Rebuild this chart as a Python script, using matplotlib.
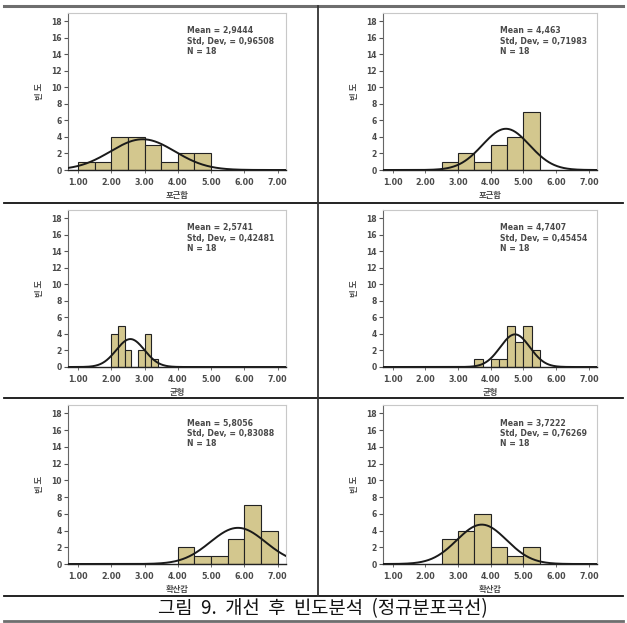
import numpy as np
import matplotlib
matplotlib.use("Agg")
import matplotlib.pyplot as plt

plt.rcParams['font.family'] = ['DejaVu Sans', 'Noto Sans CJK KR']

# ---- data ----
x_labels = ["포근함", "포근함", "균형", "균형", "확산감", "확산감"]
means = [2.9444, 4.463, 2.5741, 4.7407, 5.8056, 3.7222]
sds = [0.96508, 0.71983, 0.42481, 0.45454, 0.83088, 0.76269]
n_obs = [18, 18, 18, 18, 18, 18]
mean_text = ["2,9444", "4,463", "2,5741", "4,7407", "5,8056", "3,7222"]
sd_text = ["0,96508", "0,71983", "0,42481", "0,45454", "0,83088", "0,76269"]
bin_start = [1.0, 2.5, 2.0, 3.5, 4.0, 2.5]
bin_width = [0.5, 0.5, 0.2, 0.25, 0.5, 0.5]
counts = [
    [1, 1, 4, 4, 3, 1, 2, 2],
    [1, 2, 1, 3, 4, 7],
    [4, 5, 2, 0, 2, 4, 1],
    [1, 0, 1, 1, 5, 3, 5, 2],
    [2, 1, 1, 3, 7, 4],
    [3, 4, 6, 2, 1, 2],
]
x_ticks = [1, 2, 3, 4, 5, 6, 7]
y_ticks = [0, 2, 4, 6, 8, 10, 12, 14, 16, 18]

W, H = 627, 623
fig = plt.figure(figsize=(W / 100, H / 100), dpi=100)

def px_axes(left, top, right, bottom):
    return fig.add_axes([left / W, 1 - bottom / H, (right - left) / W, (bottom - top) / H])

col_lr = [(68, 286), (383, 597)]
row_tb = [(13, 170), (210, 367), (405, 564)]

bar_color = "#d3c78e"
txt_color = "#4a4a4a"

for i in range(6):
    r, c = divmod(i, 2)
    l, rr = col_lr[c]
    t, b = row_tb[r]
    ax = px_axes(l, t, rr, b)
    cnt = counts[i]
    lefts = [bin_start[i] + k * bin_width[i] for k in range(len(cnt))]
    ax.bar(lefts, cnt, width=bin_width[i], align='edge', color=bar_color,
           edgecolor='#222222', linewidth=0.8, zorder=2)
    xs = np.linspace(0.7, 7.25, 400)
    ys = n_obs[i] * bin_width[i] / (sds[i] * np.sqrt(2 * np.pi)) * np.exp(-0.5 * ((xs - means[i]) / sds[i]) ** 2)
    ax.plot(xs, ys, color='#1a1a1a', linewidth=1.4, zorder=3)
    ax.set_xlim(0.7, 7.25)
    ax.set_ylim(0, 19)
    ax.set_xticks(x_ticks)
    ax.set_xticklabels([f"{v:.2f}" for v in x_ticks], fontsize=5.8, fontweight='bold', color=txt_color)
    ax.set_yticks(y_ticks)
    ax.set_yticklabels([str(v) for v in y_ticks], fontsize=5.5, fontweight='bold', color=txt_color)
    ax.tick_params(axis='y', length=3, width=0.8, color='#555555', pad=1.5)
    ax.tick_params(axis='x', length=2, width=0.6, color='#555555', pad=4)
    for s in ['top', 'right']:
        ax.spines[s].set_color('#c8c8c8')
        ax.spines[s].set_linewidth(0.8)
    ax.spines['left'].set_color('#666666')
    ax.spines['left'].set_linewidth(0.8)
    ax.spines['bottom'].set_color('#222222')
    ax.spines['bottom'].set_linewidth(1.0)
    ax.set_xlabel(x_labels[i], fontsize=6, fontweight='bold', color=txt_color,
                  family=['Noto Sans CJK KR'], labelpad=2.5)
    ax.set_ylabel("빈 도", fontsize=6, fontweight='bold', color=txt_color,
                  family=['Noto Sans CJK KR'], labelpad=5)
    ax.text(0.545, 0.915, f"Mean = {mean_text[i]}\nStd, Dev, = {sd_text[i]}\nN = {n_obs[i]}",
            transform=ax.transAxes, fontsize=5.6, fontweight='bold', color=txt_color,
            va='top', ha='left', linespacing=1.2)

# ---- table lines ----
line_ax = fig.add_axes([0, 0, 1, 1], zorder=-1)
line_ax.set_xlim(0, W)
line_ax.set_ylim(H, 0)
line_ax.axis('off')
line_ax.plot([4, 623], [6, 6], color='#6e6e6e', linewidth=2.2)
line_ax.plot([4, 623], [203, 203], color='#111111', linewidth=1.3)
line_ax.plot([4, 623], [398, 398], color='#111111', linewidth=1.3)
line_ax.plot([4, 623], [596, 596], color='#111111', linewidth=1.3)
line_ax.plot([4, 623], [621, 621], color='#6e6e6e', linewidth=2.0)
line_ax.plot([318, 318], [6, 596], color='#333333', linewidth=1.3)

fig.text(323 / W, 1 - 609 / H, "그림  9.  개선  후  빈도분석  (정규분포곡선)", fontsize=13.5,
         family=['Noto Sans CJK KR'], ha='center', va='center', color='#111111')

fig.savefig("out.png", dpi=100)
